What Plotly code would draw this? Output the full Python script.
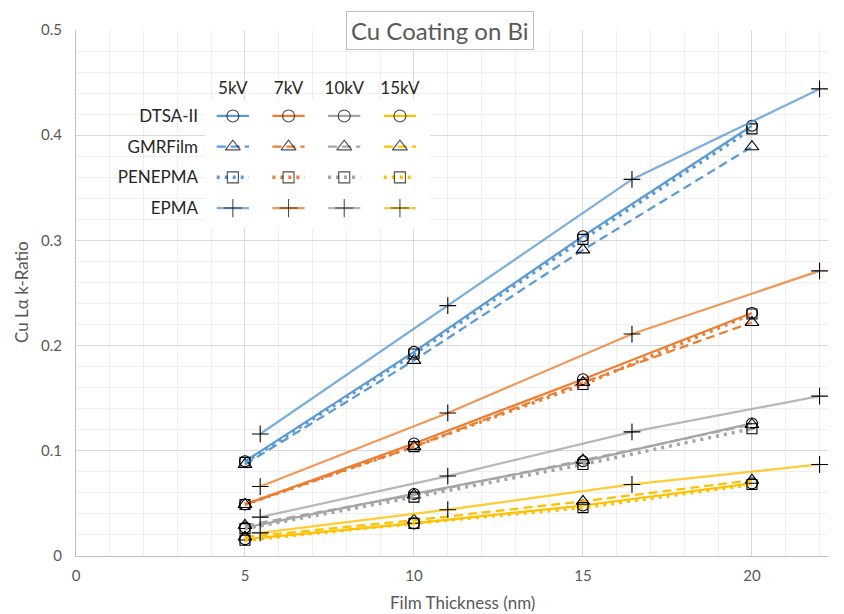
import plotly.graph_objects as go

# ---------------- data ----------------
thickness = [5, 10, 15, 20]            # DTSA-II / GMRFilm / PENEPMA film thickness (nm)
epma_thickness = [5.45, 11.0, 16.45, 22.0]  # EPMA film thickness (nm)

voltages = ["5kV", "7kV", "10kV", "15kV"]
methods = ["DTSA-II", "GMRFilm", "PENEPMA", "EPMA"]

dtsa_5kv = [0.090, 0.194, 0.304, 0.409]
dtsa_7kv = [0.049, 0.107, 0.168, 0.231]
dtsa_10kv = [0.027, 0.059, 0.090, 0.126]
dtsa_15kv = [0.016, 0.031, 0.048, 0.069]

gmr_5kv = [0.087, 0.186, 0.291, 0.389]
gmr_7kv = [0.049, 0.104, 0.165, 0.222]
gmr_10kv = [0.029, 0.058, 0.091, 0.125]
gmr_15kv = [0.018, 0.034, 0.052, 0.072]

pen_5kv = [0.089, 0.192, 0.301, 0.406]
pen_7kv = [0.049, 0.104, 0.163, 0.230]
pen_10kv = [0.026, 0.056, 0.087, 0.121]
pen_15kv = [0.015, 0.031, 0.046, 0.068]

epma_5kv = [0.116, 0.238, 0.358, 0.444]
epma_7kv = [0.066, 0.136, 0.211, 0.271]
epma_10kv = [0.037, 0.076, 0.118, 0.152]
epma_15kv = [0.022, 0.044, 0.068, 0.087]

x_ticks = [0, 5, 10, 15, 20]
y_ticks = [0, 0.1, 0.2, 0.3, 0.4, 0.5]

x_title = "Film Thickness (nm)"
y_title = "Cu Lα k-Ratio"
chart_title = "Cu Coating on Bi"

# ---------------- styles ----------------
colors = ["#5B9BD5", "#ED7D31", "#A5A5A5", "#FFC000"]
light_colors = ["rgba(91,155,213,0.8)", "rgba(237,125,49,0.8)",
                "rgba(165,165,165,0.8)", "rgba(255,192,0,0.8)"]
DASH = "9px,5px"
DOT = "3px,5px"
FONT = "Lato, Open Sans, sans-serif"
TXT = "#595959"

series = {
    "DTSA-II": [dtsa_5kv, dtsa_7kv, dtsa_10kv, dtsa_15kv],
    "GMRFilm": [gmr_5kv, gmr_7kv, gmr_10kv, gmr_15kv],
    "PENEPMA": [pen_5kv, pen_7kv, pen_10kv, pen_15kv],
    "EPMA": [epma_5kv, epma_7kv, epma_10kv, epma_15kv],
}
style = {
    "DTSA-II": dict(symbol="circle-open", size=11, dash="solid", width=2.25, light=False),
    "GMRFilm": dict(symbol="triangle-up-open", size=12, dash=DASH, width=2.25, light=False),
    "PENEPMA": dict(symbol="square-open", size=10, dash=DOT, width=3.5, light=False),
    "EPMA": dict(symbol="cross-thin-open", size=12, dash="solid", width=2.25, light=True),
}

fig = go.Figure()

# main chart
for m in methods:
    st = style[m]
    xs = epma_thickness if m == "EPMA" else thickness
    for i, v in enumerate(voltages):
        col = light_colors[i] if st["light"] else colors[i]
        fig.add_trace(go.Scatter(
            x=xs, y=series[m][i], mode="lines+markers", name=f"{m} {v}",
            line=dict(color=col, width=st["width"], dash=st["dash"]),
            marker=dict(symbol=st["symbol"], size=st["size"], color="black",
                        line=dict(color="black", width=1.1)),
            showlegend=False, xaxis="x", yaxis="y", cliponaxis=False))

# custom grid legend (on auxiliary axes x2/y2, index positions)
row_of = {m: 3 - k for k, m in enumerate(methods)}
half = 0.29
for m in methods:
    st = style[m]
    for i, v in enumerate(voltages):
        col = light_colors[i] if st["light"] else colors[i]
        fig.add_trace(go.Scatter(
            x=[i - half, i, i + half], y=[row_of[m]] * 3, mode="lines+markers",
            line=dict(color=col, width=st["width"], dash=st["dash"]),
            marker=dict(symbol=st["symbol"], size=[0, st["size"] + 1, 0], color="black",
                        line=dict(color="black", width=1.1)),
            showlegend=False, hoverinfo="skip", xaxis="x2", yaxis="y2"))

W, H = 844, 614
L, R, T, B = 76, 16, 30, 58
pw, ph = W - L - R, H - T - B


def px_x(p):
    return (p - L) / pw


def px_y(p):
    return (H - B - p) / ph


LEG_X0, LEG_X1 = 205, 430
LEG_Y0, LEG_Y1 = 100, 228   # top, bottom in px

fig.update_layout(
    width=W, height=H,
    margin=dict(l=L, r=R, t=T, b=B, autoexpand=False),
    paper_bgcolor="white", plot_bgcolor="white",
    font=dict(family=FONT, color=TXT, size=15),
    showlegend=False,
    xaxis=dict(
        range=[0, 22.25], tickvals=x_ticks, ticktext=[str(t) for t in x_ticks],
        showgrid=True, gridcolor="#D9D9D9", gridwidth=1,
        minor=dict(dtick=1, showgrid=True, gridcolor="#EFEFEF", gridwidth=1),
        zeroline=False, showline=True, linecolor="#BFBFBF", linewidth=1,
        ticks="", ticklabelstandoff=6, automargin=False,
        tickfont=dict(size=15, color=TXT, family=FONT),
    ),
    yaxis=dict(
        range=[0, 0.5], tickvals=y_ticks, ticktext=["0", "0.1", "0.2", "0.3", "0.4", "0.5"],
        showgrid=True, gridcolor="#D9D9D9", gridwidth=1,
        minor=dict(dtick=0.02, showgrid=True, gridcolor="#EFEFEF", gridwidth=1),
        zeroline=False, showline=True, linecolor="#BFBFBF", linewidth=1,
        ticks="", ticklabelstandoff=10, automargin=False,
        tickfont=dict(size=15, color=TXT, family=FONT),
    ),
    xaxis2=dict(
        domain=[px_x(LEG_X0), px_x(LEG_X1)], range=[-0.5, 3.54], anchor="y2", side="top",
        tickvals=[0, 1, 2, 3], ticktext=voltages, showgrid=False, zeroline=False,
        showline=False, ticks="", ticklabelstandoff=2, fixedrange=True, automargin=False,
        tickfont=dict(size=17, color="#262626", family=FONT),
    ),
    yaxis2=dict(
        domain=[px_y(LEG_Y1), px_y(LEG_Y0)], range=[-0.65, 3.52], anchor="x2",
        tickvals=[row_of[m] for m in methods], ticktext=methods, showgrid=False,
        zeroline=False, showline=False, ticks="", ticklabelstandoff=6, fixedrange=True,
        automargin=False,
        tickfont=dict(size=17, color="#262626", family=FONT),
    ),
    shapes=[
        # white backing for legend rows (label column + samples)
        dict(type="rect", xref="x2 domain", yref="y2 domain", layer="below",
             x0=(111 - LEG_X0) / (LEG_X1 - LEG_X0), x1=1, y0=0, y1=1,
             fillcolor="white", line=dict(width=0)),
        # white backing for legend header
        dict(type="rect", xref="x2 domain", yref="y2 domain", layer="below",
             x0=0, x1=1, y0=1, y1=1 + (LEG_Y0 - 68) / (LEG_Y1 - LEG_Y0),
             fillcolor="white", line=dict(width=0)),
    ],
    annotations=[
        dict(text=chart_title, xref="paper", yref="paper",
             x=px_x(440), y=px_y(30), xanchor="center", yanchor="middle",
             showarrow=False, font=dict(size=24, color=TXT, family=FONT),
             bgcolor="white", bordercolor="#BFBFBF", borderwidth=1, borderpad=4),
        dict(text=x_title, xref="paper", yref="paper",
             x=px_x(462), y=px_y(602), xanchor="center", yanchor="middle",
             showarrow=False, font=dict(size=17, color=TXT, family=FONT)),
        dict(text=y_title, xref="paper", yref="paper", textangle=-90,
             x=px_x(21), y=px_y(292), xanchor="center", yanchor="middle",
             showarrow=False, font=dict(size=17, color=TXT, family=FONT)),
    ],
)

fig.write_html("out.html")
